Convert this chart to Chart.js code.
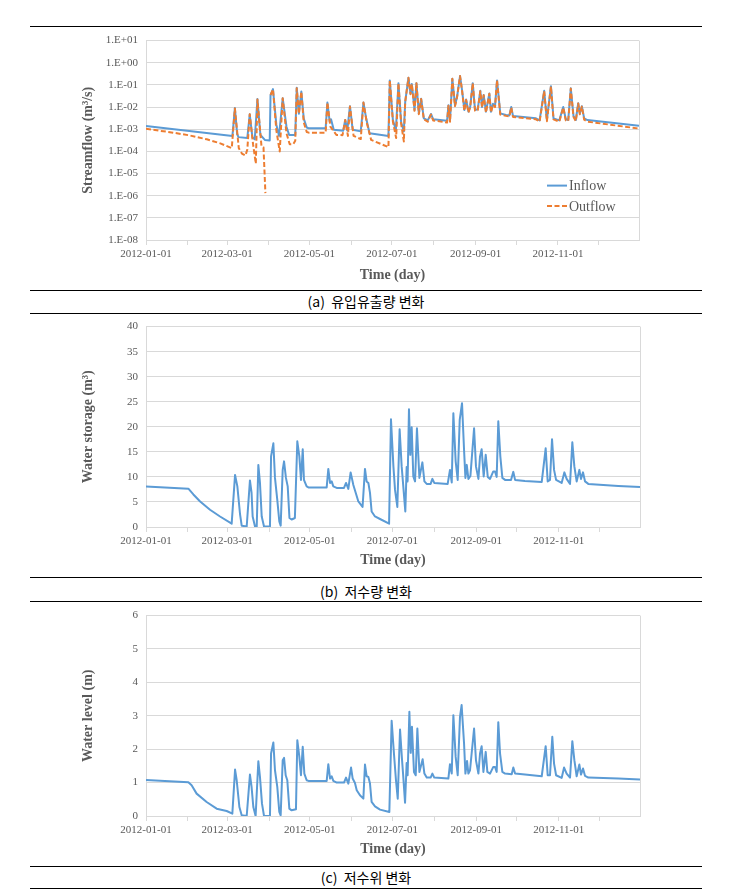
<!DOCTYPE html>
<html>
<head>
<meta charset="utf-8">
<title>Reservoir inflow, storage and level, 2012</title>
<script src="https://cdn.jsdelivr.net/npm/chart.js@4.4.1/dist/chart.umd.min.js"></script>
<style>
  body { margin: 0; background: #fff; }
  #page { position: relative; width: 753px; height: 892px; overflow: hidden; }
  .rule { position: absolute; left: 30px; width: 672px; height: 0; border-top: 1px solid #000; }
  .caption { position: absolute; left: 30px; width: 672px; text-align: center;
             font-family: "Noto Sans CJK KR", sans-serif; font-size: 14px; line-height: 16px; color: #000; }
  .panel { position: absolute; left: 0; line-height: 0; }
  .panel canvas { display: block; }
</style>
</head>
<body>
<div id="page">
  <div class="rule" style="top:26px"></div>
  <div class="rule" style="top:290px"></div>
  <div class="caption" style="top:293px">(a)&nbsp; 유입유출량 변화</div>
  <div class="rule" style="top:313px"></div>
  <div class="rule" style="top:577px"></div>
  <div class="caption" style="top:583px">(b)&nbsp; 저수량 변화</div>
  <div class="rule" style="top:601px"></div>
  <div class="rule" style="top:866px"></div>
  <div class="caption" style="top:869px">(c)&nbsp; 저수위 변화</div>
  <div class="rule" style="top:888px"></div>
  <div class="panel" style="top:26px"><canvas id="flowChart" width="700" height="264"></canvas></div>
  <div class="panel" style="top:312px"><canvas id="storageChart" width="700" height="265"></canvas></div>
  <div class="panel" style="top:601px"><canvas id="levelChart" width="700" height="265"></canvas></div>
</div>

<script>
// x axis: day of year 2012 (0 = 2012-01-01), ticks at every month start
const monthDays = [0, 31, 60, 91, 121, 152, 182, 213, 244, 274, 305, 335];
const monthLabels = ['2012-01-01', '', '2012-03-01', '', '2012-05-01', '', '2012-07-01', '', '2012-09-01', '', '2012-11-01', ''];

// (a) streamflow, log axis
const flowTicks = [1e1, 1e0, 1e-1, 1e-2, 1e-3, 1e-4, 1e-5, 1e-6, 1e-7, 1e-8];
const flowTickLabels = ['1.E+01', '1.E+00', '1.E-01', '1.E-02', '1.E-03', '1.E-04', '1.E-05', '1.E-06', '1.E-07', '1.E-08'];

const inflowDays = [
  0, 64, 65.8, 67.5, 68.5, 75, 76.8, 78.8, 80.5, 82.5,
  84.7, 88, 91.6, 92.2, 94, 96.5, 98.5, 101.2, 104, 106,
  110.5, 111.6, 113.2, 115, 116.8, 119, 120.5, 133, 134.3, 136,
  137, 139, 146, 147.5, 149, 151, 153, 159, 161, 163,
  165.5, 179.5, 180.5, 182.8, 185, 186.9, 188.9, 190.9, 191.9, 194.3,
  195.8, 196.8, 198.8, 200.2, 202, 203.7, 205.7, 208.6, 211, 212.6,
  222.9, 223.9, 225.1, 226.8, 228.8, 230.3, 232.5, 234, 235.7, 237,
  238.7, 240, 241.9, 243.6, 245.6, 247.5, 248.8, 250, 251.7, 254.2,
  255.4, 256.9, 258.4, 259.9, 262.3, 266.5, 269, 270.4, 271.7, 288.7,
  291.4, 294.8, 296.8, 299.8, 301.7, 306, 308.9, 310.8, 312.6, 314.5,
  316.5, 318.2, 320, 321.2, 322.7, 324.4, 326.8, 365
];
const inflow = [
  1.4e-3, 5e-4, 9e-3, 6e-4, 4.4e-4, 4e-4, 4.7e-3, 4.2e-4, 3.5e-4, 2.3e-2,
  5.5e-4, 3.3e-4, 3.1e-4, 3.5e-2, 6.5e-2, 1.6e-3, 5e-4, 2.5e-2, 1.3e-3, 5.5e-4,
  5.5e-4, 7.5e-2, 5e-3, 5e-2, 3e-3, 1.2e-3, 1.1e-3, 1.1e-3, 1.6e-2, 2.2e-3,
  2.8e-3, 9.5e-4, 8.5e-4, 2.6e-3, 8.7e-4, 1.1e-2, 9.5e-4, 8e-4, 1.6e-2, 3.1e-3,
  6.6e-4, 5e-4, 0.16, 2.6e-3, 9e-4, 0.12, 2e-3, 8e-4, 1.7e-2, 0.21,
  4.1e-2, 0.11, 7.4e-3, 0.12, 5.2e-3, 2.4e-2, 3.1e-3, 2.5e-3, 4.9e-3, 2.8e-3,
  2.4e-3, 1.2e-2, 2.6e-3, 0.19, 1.2e-2, 2.9e-2, 0.25, 5.8e-2, 7.4e-3, 2.2e-2,
  6.2e-3, 1e-2, 0.12, 7.4e-3, 7.9e-3, 5.4e-2, 1e-2, 3.5e-2, 6.2e-3, 4.1e-2,
  6.2e-3, 1.4e-2, 1.1e-2, 0.16, 5.2e-3, 4.4e-3, 4.2e-3, 1e-2, 4e-3, 3.1e-3,
  2.5e-3, 5.4e-2, 2.6e-3, 8.8e-2, 3.1e-3, 2.5e-3, 1e-2, 2.8e-3, 2.6e-3, 7e-2,
  4e-3, 2.6e-3, 1.5e-2, 5.2e-3, 1.1e-2, 3.1e-3, 2.6e-3, 1.45e-3
];

const outflowDays = [
  0, 20, 32, 45, 55, 63.5, 65.8, 68.7, 71, 73.6,
  75, 76.8, 79.3, 81.3, 82.5, 85.5, 87, 88.4, 90, 92.2,
  94, 96.5, 99, 101.2, 104, 106.4, 109, 110.5, 111.6, 113.2,
  115, 116.8, 119, 120.5, 133, 134.3, 136.5, 141, 145.5, 147.5,
  149.5, 151, 153.7, 159, 161, 163.5, 166.7, 179.5, 180.5, 182.8,
  185.2, 186.9, 188.9, 190.9, 191.9, 194.3, 195.8, 196.8, 198.8, 200.2,
  202, 203.7, 205.7, 208.6, 211, 212.6, 222.9, 223.9, 225.1, 226.8,
  228.8, 230.3, 232.5, 234, 235.7, 237, 238.7, 240, 241.9, 243.6,
  245.6, 247.5, 248.8, 250, 251.7, 254.2, 255.4, 256.9, 258.4, 259.9,
  262.3, 266.5, 269, 270.4, 271.7, 288.7, 291.4, 294.8, 296.8, 299.8,
  301.7, 306, 308.9, 310.8, 312.6, 314.5, 316.5, 318.2, 320, 321.2,
  322.7, 324.4, 326.8, 365
];
const outflow = [
  1.05e-3, 7e-4, 5.3e-4, 3.5e-4, 2.3e-4, 1.4e-4, 8.7e-3, 1.4e-4, 8e-5, 6.5e-5,
  1.2e-4, 4.7e-3, 2e-4, 2.8e-5, 2.2e-2, 1.7e-4, 1.5e-4, 1.3e-6, null, 3.5e-2,
  6.3e-2, 9e-4, 1e-4, 2.5e-2, 6.6e-4, 2.1e-4, 2.1e-4, 3e-4, 7e-2, 5e-3,
  5e-2, 2e-3, 7.5e-4, 7e-4, 7e-4, 1.6e-2, 1.3e-3, 5.5e-4, 5.4e-4, 2.6e-3,
  5e-4, 1.05e-2, 5e-4, 3.6e-4, 1.6e-2, 1.9e-3, 3.3e-4, 1.55e-4, 0.16, 2.2e-3,
  4e-4, 0.12, 1.8e-3, 2.8e-4, 1.7e-2, 0.21, 3.8e-2, 0.11, 6.8e-3, 0.12,
  4.8e-3, 2.3e-2, 2.8e-3, 2.2e-3, 4.6e-3, 2.5e-3, 2e-3, 1.15e-2, 2.2e-3, 0.19,
  1.1e-2, 2.8e-2, 0.25, 5.5e-2, 6.8e-3, 2.1e-2, 5.6e-3, 9.5e-3, 0.12, 6.8e-3,
  7.2e-3, 5.2e-2, 9.5e-3, 3.4e-2, 5.6e-3, 4e-2, 5.6e-3, 1.3e-2, 1e-2, 0.16,
  4.6e-3, 4e-3, 3.8e-3, 9.5e-3, 3.6e-3, 2.8e-3, 2.2e-3, 5.2e-2, 2.3e-3, 8.5e-2,
  2.8e-3, 2.2e-3, 9.5e-3, 2.5e-3, 2.3e-3, 6.8e-2, 3.6e-3, 2.3e-3, 1.45e-2, 4.7e-3,
  1.05e-2, 2.7e-3, 2.2e-3, 1.07e-3
];

// (b) water storage (m3)
const storageDays = [
  0, 31.3, 35, 40, 47.3, 54.7, 63.3, 65.8, 67.5, 69.5,
  70.7, 74.4, 76.8, 78, 78.8, 80.5, 81.8, 83, 84.2, 85.5,
  87.2, 91.6, 92.4, 94.1, 95.3, 97, 98.5, 99.5, 101, 102,
  103.4, 104.7, 106, 107.6, 110, 111.8, 113.3, 114.5, 115.8, 116.7,
  118.7, 120, 133.5, 134.7, 136, 137.2, 138.4, 140.9, 146.3, 147.8,
  149.5, 151.2, 153.2, 155, 156.9, 160, 161.8, 163, 164.3, 165.5,
  166.7, 169.2, 172.9, 179.6, 181, 182.8, 184, 185.7, 187.4, 188.9,
  190.1, 191.6, 192.6, 193.3, 194.3, 195.3, 196.3, 197.5, 198.8, 200.2,
  202, 204.2, 205.7, 207.4, 210.3, 211.6, 213, 222.9, 224.6, 225.9,
  227.1, 228.8, 230.3, 231.8, 233.5, 235, 236, 237, 238.2, 239.7,
  242.4, 243.8, 245.6, 246.8, 248, 249.5, 251, 252.5, 254.2, 256.6,
  257.9, 259.1, 260.3, 261.8, 263.3, 265.3, 269.7, 271.4, 272.7, 280,
  292.4, 295.3, 296.8, 298.5, 300, 301.5, 303, 307.1, 309.1, 310.8,
  313.3, 315, 316.5, 318.2, 320.2, 321.4, 322.9, 324.4, 326.8, 349,
  365
];
const storage = [
  8.1, 7.65, 6.5, 5.1, 3.45, 2.1, 0.66, 10.4, 8.1, 2.5,
  0.27, 0.1, 9.3, 6.8, 2.1, 0.13, 0, 12.4, 8.8, 2.1,
  0.1, 0.1, 14.1, 16.7, 9.8, 5.4, 1.1, 0.27, 11.4, 13.1,
  9.8, 8.1, 1.8, 1.5, 1.8, 17.1, 14.1, 9.4, 15.5, 9.4,
  8.1, 7.9, 7.9, 11.6, 8.8, 9.1, 8.1, 7.8, 7.8, 8.8,
  7.6, 10.9, 8.4, 6.8, 5.1, 4, 11.6, 9.1, 8.8, 6.8,
  3.1, 2.1, 1.6, 0.66, 21.5, 12.1, 7.4, 4, 19.5, 12.1,
  8.1, 3.1, 12, 9.1, 23.5, 14.4, 19.9, 10.1, 9.1, 19.7,
  9.8, 12.9, 9.1, 8.6, 8.6, 9.6, 8.8, 8.6, 11.4, 8.9,
  22.7, 13.1, 9.4, 21.4, 24.7, 15.4, 9.8, 12.4, 9.6, 10.2,
  19.7, 12.1, 9.6, 14.1, 15.5, 10.1, 14.4, 10, 9.6, 11.1,
  11.1, 10, 21.1, 14.1, 9.8, 9.4, 9.4, 11, 9.4, 9.2,
  9, 15.7, 9.1, 9.4, 17.5, 11.4, 9.4, 8.8, 10.9, 9.6,
  8.6, 16.9, 12.1, 9.1, 11.4, 9.6, 10.9, 9.1, 8.6, 8.2,
  8.0
];

// (c) water level (m)
const levelDays = [
  0, 31.3, 33.7, 37.4, 44.8, 52.2, 59.6, 63.8, 65.8, 67,
  69, 70.7, 74.4, 76.8, 78, 79.3, 81, 83, 84.2, 85.7,
  87.2, 91.6, 92.4, 94.1, 95.3, 97, 98.5, 99.5, 101, 102,
  103.2, 104.4, 105.9, 107.6, 110.8, 111.8, 113.3, 114.5, 115.8, 117,
  118.7, 120, 133.5, 134.7, 136, 137.2, 138.4, 140.9, 146.3, 147.8,
  149.5, 151.5, 152.7, 154.4, 155.7, 158.1, 160.6, 161.8, 163, 164.3,
  165.5, 166.7, 169.2, 172.9, 179.8, 181.5, 183.2, 184.7, 186, 187.7,
  189.2, 190.1, 191.4, 192.6, 193.3, 194.6, 195.6, 196.5, 198, 199.3,
  200.5, 202, 204.4, 205.7, 207.4, 210.3, 211.6, 213, 223.4, 224.6,
  225.9, 227.1, 228.8, 230.3, 232, 233.2, 235, 236, 237.2, 238.2,
  239.4, 242.4, 243.8, 245.6, 246.8, 248, 249.3, 251, 252.2, 254.2,
  256.6, 257.9, 259.1, 260.3, 261.6, 263.3, 265.3, 270.2, 271.4, 272.7,
  280, 292.4, 295.3, 296.8, 298.5, 300.2, 301.5, 303, 307.1, 308.9,
  310.8, 313.3, 315, 316.5, 318.2, 320.2, 321.4, 322.9, 324.4, 326.8,
  349, 365
];
const level = [
  1.08, 1.01, 0.92, 0.67, 0.42, 0.22, 0.15, 0.07, 1.39, 1.07,
  0.27, 0.02, 0, 1.24, 0.87, 0.27, 0, 1.64, 1.17, 0.37,
  0, 0, 1.87, 2.2, 1.37, 0.87, 0.12, 0.02, 1.67, 1.74,
  1.22, 1.07, 0.22, 0.17, 0.2, 2.27, 1.77, 1.22, 2.07, 1.27,
  1.07, 1.05, 1.05, 1.55, 1.12, 1.19, 1.05, 1.0, 1.0, 1.15,
  0.97, 1.45, 1.12, 0.99, 0.77, 0.62, 0.52, 1.54, 1.19, 1.17,
  0.97, 0.42, 0.29, 0.19, 0.12, 2.85, 1.87, 1.07, 0.52, 2.59,
  1.67, 1.17, 0.4, 1.59, 1.22, 3.12, 1.89, 2.67, 1.32, 1.22,
  2.62, 1.32, 1.7, 1.27, 1.15, 1.15, 1.27, 1.15, 1.12, 1.55,
  1.27, 3.02, 1.77, 1.22, 2.97, 3.32, 2.17, 1.27, 1.65, 1.27,
  1.37, 2.62, 1.67, 1.27, 1.87, 2.09, 1.32, 1.92, 1.32, 1.27,
  1.47, 1.47, 1.32, 2.81, 1.87, 1.32, 1.27, 1.25, 1.45, 1.27,
  1.24, 1.19, 2.09, 1.22, 1.22, 2.37, 1.57, 1.22, 1.14, 1.45,
  1.27, 1.15, 2.24, 1.67, 1.19, 1.54, 1.24, 1.42, 1.2, 1.15,
  1.12, 1.09
];

const BLUE = '#5B9BD5';
const ORANGE = '#ED7D31';
const GRID = '#d9d9d9';
const TEXT = '#595959';
const tickFont = { family: 'Liberation Serif', size: 11 };
const titleFont = { family: 'Liberation Serif', size: 14, weight: 'bold' };

// pairs two arrays into {x, y} points
function points(days, values) {
  return days.map((d, i) => ({ x: d, y: values[i] }));
}

// light frame line on the right edge of the plot area (Excel style)
const plotFrame = {
  id: 'plotFrame',
  beforeDatasetsDraw(chart) {
    const a = chart.chartArea, ctx = chart.ctx;
    ctx.save();
    ctx.strokeStyle = GRID;
    ctx.lineWidth = 1;
    ctx.beginPath();
    ctx.moveTo(Math.round(a.right) + 0.5, a.top);
    ctx.lineTo(Math.round(a.right) + 0.5, a.bottom);
    ctx.stroke();
    ctx.restore();
  }
};

// legend drawn inside the plot area, lower right
const insideLegend = {
  id: 'insideLegend',
  afterDatasetsDraw(chart) {
    const a = chart.chartArea, ctx = chart.ctx;
    ctx.save();
    chart.data.datasets.forEach((ds, i) => {
      const x = a.right - 92;
      const y = a.top + 145 + i * 20.5;
      ctx.strokeStyle = ds.borderColor;
      ctx.lineWidth = ds.borderWidth;
      ctx.setLineDash(ds.borderDash || []);
      ctx.beginPath();
      ctx.moveTo(x, y);
      ctx.lineTo(x + 20, y);
      ctx.stroke();
      ctx.setLineDash([]);
      ctx.fillStyle = TEXT;
      ctx.font = '14px "Liberation Serif"';
      ctx.textBaseline = 'middle';
      ctx.fillText(ds.label, x + 22, y + 1);
    });
    ctx.restore();
  }
};

// bottom title is placed lineHeight/2 + padding.bottom above the axis box bottom
function xAxis(titlePad) {
  return {
    type: 'linear', min: 0, max: 365,
    afterBuildTicks: s => { s.ticks = monthDays.map(v => ({ value: v })); },
    afterFit: s => { s.height = 50; },
    grid: { drawOnChartArea: false, drawTicks: true, tickLength: 5, color: GRID },
    border: { color: GRID },
    ticks: {
      autoSkip: false, maxRotation: 0, padding: 3, color: TEXT, font: tickFont,
      callback: v => monthLabels[monthDays.indexOf(v)]
    },
    title: { display: true, text: 'Time (day)', color: TEXT, font: titleFont, padding: { top: 0, bottom: titlePad } }
  };
}

function yAxis(extra, title) {
  return Object.assign({
    afterFit: s => { s.width = 146; },
    grid: { color: GRID, drawTicks: false },
    border: { color: GRID },
    title: { display: true, text: title, color: TEXT, font: titleFont, padding: { top: 80, bottom: 0 } }
  }, extra);
}

function lineSet(label, data, color, dash, order) {
  return {
    label: label, data: data, borderColor: color, backgroundColor: color,
    borderWidth: 2, borderDash: dash, borderJoinStyle: 'round', pointRadius: 0, tension: 0,
    spanGaps: false, order: order, fill: false
  };
}

// y tick padding (8) + half label height makes the plot start 14.6px below the canvas top
function baseOptions(rightPad, titlePad, y) {
  return {
    responsive: false, animation: false,
    layout: { padding: { top: 0, right: rightPad, bottom: 0, left: 0 } },
    plugins: { legend: { display: false }, tooltip: { enabled: false } },
    scales: { x: xAxis(titlePad), y: y }
  };
}

// (a) inflow / outflow
new Chart(document.getElementById('flowChart'), {
  type: 'line',
  data: {
    datasets: [
      lineSet('Inflow', points(inflowDays, inflow), BLUE, [], 2),
      lineSet('Outflow', points(outflowDays, outflow), ORANGE, [5, 2.5], 1)
    ]
  },
  options: baseOptions(61, 6.6, yAxis({
    type: 'logarithmic', min: 1e-8, max: 10,
    afterBuildTicks: s => { s.ticks = flowTicks.map(v => ({ value: v })); },
    ticks: { padding: 8, color: TEXT, font: tickFont, callback: v => flowTickLabels[flowTicks.indexOf(v)] }
  }, 'Streamflow (m³/s)')),
  plugins: [plotFrame, insideLegend]
});

// (b) storage
new Chart(document.getElementById('storageChart'), {
  type: 'line',
  data: { datasets: [lineSet('Water storage', points(storageDays, storage), BLUE, [], 1)] },
  options: baseOptions(60, 8.6, yAxis({
    type: 'linear', min: 0, max: 40,
    ticks: { stepSize: 5, padding: 8, color: TEXT, font: tickFont }
  }, 'Water storage (m³)')),
  plugins: [plotFrame]
});

// (c) level
new Chart(document.getElementById('levelChart'), {
  type: 'line',
  data: { datasets: [lineSet('Water level', points(levelDays, level), BLUE, [], 1)] },
  options: baseOptions(60, 8.3, yAxis({
    type: 'linear', min: 0, max: 6,
    ticks: { stepSize: 1, padding: 8, color: TEXT, font: tickFont }
  }, 'Water level (m)')),
  plugins: [plotFrame]
});
</script>
</body>
</html>
